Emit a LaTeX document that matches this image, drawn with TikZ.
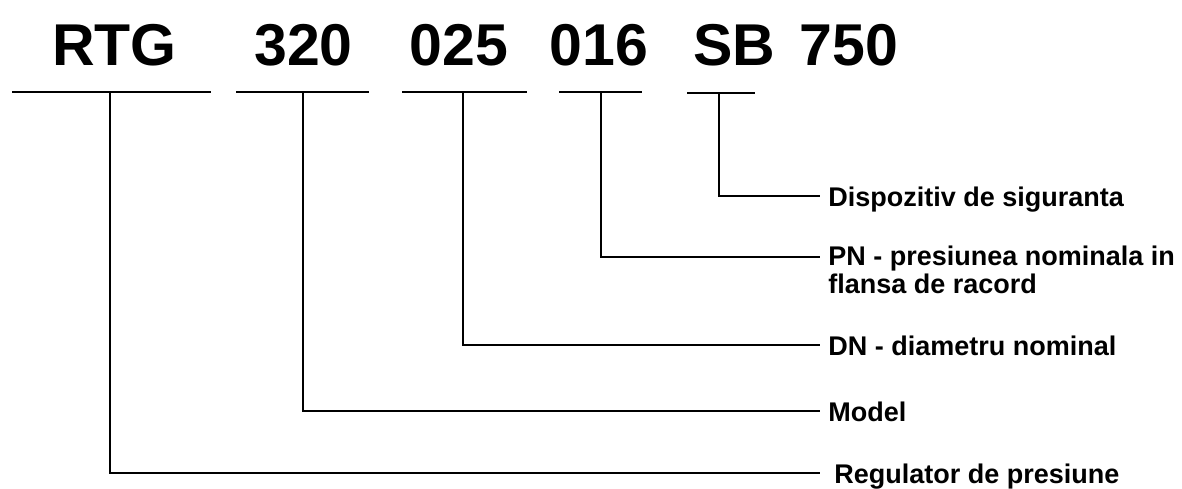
\documentclass[tikz,border=0pt]{standalone}
\usepackage{fontspec}
\setmainfont{Liberation Sans}
\usetikzlibrary{positioning}

\begin{document}
\begin{tikzpicture}[
  x=0.5pt,y=-0.5pt,
  code/.style={font=\fontsize{29.5}{32}\selectfont\bfseries,inner sep=0pt,anchor=base},
  desc/.style={font=\fontsize{13.5}{14}\selectfont\bfseries,inner sep=0pt,
    anchor=base west,align=left},
  bar/.style={line width=1.4pt},
  lead/.style={line width=1.3pt}
]
\useasboundingbox (0,0) rectangle (1182,488);
% code parts
\node[code] (rtg) at (114.5,65) {RTG};
\node[code] (mdl) at (303.5,65) {320};
\node[code] (dn) at (459,65) {025};
\node[code] (pn) at (599,65) {016};
\node[code] (sb) at (734.5,65) {SB};
\node[code] (sbv) at (849,65) {750};
% underlines
\coordinate (rtgL) at (12,92);  \coordinate (rtgR) at (211,92);
\coordinate (mdlL) at (236,92); \coordinate (mdlR) at (369,92);
\coordinate (dnL) at (402,92);  \coordinate (dnR) at (527,92);
\coordinate (pnL) at (559,92);  \coordinate (pnR) at (642,92);
\coordinate (sbL) at (687,93);  \coordinate (sbR) at (755,93);
\draw[bar] (rtgL) -- (rtgR);
\draw[bar] (mdlL) -- (mdlR);
\draw[bar] (dnL) -- (dnR);
\draw[bar] (pnL) -- (pnR);
\draw[bar] (sbL) -- (sbR);
% leader ends
\coordinate (rtgT) at (110,92);  \coordinate (rtgE) at (820,473);
\coordinate (mdlT) at (303,92);  \coordinate (mdlE) at (820,411);
\coordinate (dnT) at (463,92);   \coordinate (dnE) at (820,345);
\coordinate (pnT) at (601,92);   \coordinate (pnE) at (820,257);
\coordinate (sbT) at (719,93);   \coordinate (sbE) at (820,196);
% descriptions
\node[desc] (sbD) at ([shift={(8,10)}]sbE) {Dispozitiv de siguranta};
\node[desc,anchor=north west] (pnD) at ([shift={(8,-11)}]pnE)
  {PN - presiunea nominala in\\flansa de racord};
\node[desc] (dnD) at ([shift={(8,10)}]dnE) {DN - diametru nominal};
\node[desc] (mdlD) at ([shift={(8,10)}]mdlE) {Model};
\node[desc] (rtgD) at ([shift={(14,10)}]rtgE) {Regulator de presiune};
% leaders
\draw[lead] (sbT) |- (sbE);
\draw[lead] (pnT) |- (pnE);
\draw[lead] (dnT) |- (dnE);
\draw[lead] (mdlT) |- (mdlE);
\draw[lead] (rtgT) |- (rtgE);
\end{tikzpicture}
\end{document}
